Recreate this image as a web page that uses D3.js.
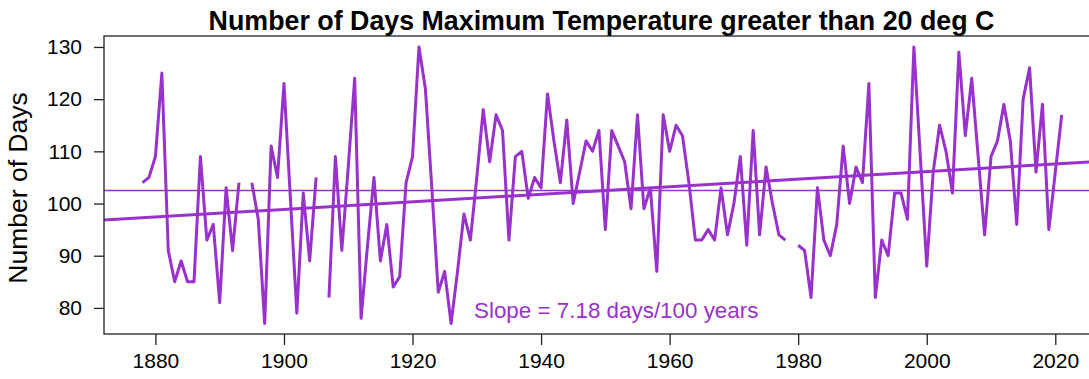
<!DOCTYPE html>
<html>
<head>
<meta charset="utf-8">
<script src="https://cdn.jsdelivr.net/npm/d3@7"></script>
<style>
  html, body { margin: 0; padding: 0; background: #fff; }
  svg { display: block; font-family: "Liberation Sans", Arial, Helvetica, sans-serif; }
  .axis path { display: none; }
  .axis line { stroke: #222; stroke-width: 1.3px; }
  .axis text { fill: #000; font-size: 21px; }
</style>
</head>
<body>
<div class="chart"></div>
<script>
// Data
const years = d3.range(1878, 2022);
const days = [
  104, 105, 109, 125, 91, 85, 89, 85, 85, 109, 93, 96, 81, 103, 91, 104, null,      // 1878-1894
  104, 97, 77, 111, 105, 123, 101, 79, 102, 89, 105, null,                          // 1895-1906
  82, 109, 91, 107, 124, 78, 92, 105, 89, 96, 84, 86, 104, 109,                     // 1907-1920
  130, 122, 103, 83, 87, 77, 87, 98, 93, 105, 118, 108, 117, 114, 93, 109, 110, 101, 105, 103, // 1921-1940
  121, 112, 104, 116, 100, 106, 112, 110, 114, 95, 114, 111, 108, 99, 117, 99, 103, 87, 117, 110, // 1941-1960
  115, 113, 104, 93, 93, 95, 93, 103, 94, 100, 109, 92, 114, 94, 107, 100, 94, 93, null, // 1961-1979
  92, 91, 82, 103, 93, 90, 96, 111, 100, 107, 104, 123, 82, 93, 90, 102, 102, 97, 130, 109, // 1980-1999
  88, 106, 115, 110, 102, 129, 113, 124, 109, 94, 109, 112, 119, 112, 96, 120, 126, 106, 119, 95, // 2000-2019
  106, 117                                                                         // 2020-2021
];
const yTicks = [80, 90, 100, 110, 120, 130];
const xTicks = [1880, 1900, 1920, 1940, 1960, 1980, 2000, 2020];
const title = 'Number of Days Maximum Temperature greater than 20 deg C';
const yLabel = 'Number of Days';
const slopeLabel = 'Slope = 7.18 days/100 years';

const purple = '#9932cc';
const width = 1089, height = 379;
const plot = { left: 104, right: 1099, top: 36, bottom: 334 };

const data = years.map((y, i) => ({ year: y, value: days[i] }));
const valid = data.filter(d => d.value != null);

// Least squares fit + mean
const mx = d3.mean(valid, d => d.year);
const my = d3.mean(valid, d => d.value);
const slope = d3.sum(valid, d => (d.year - mx) * (d.value - my)) / d3.sum(valid, d => (d.year - mx) ** 2);
const fit = yr => my + slope * (yr - mx);

const svg = d3.select('.chart')
  .append('svg')
  .attr('width', width)
  .attr('height', height);

// Scales
const xScale = d3.scaleLinear().domain([1872, 2026.8]).range([plot.left, plot.right]);
const yScale = d3.scaleLinear().domain([75, 132.1]).range([plot.bottom, plot.top]);

svg.append('clipPath')
  .attr('id', 'clip')
  .append('rect')
  .attr('x', plot.left)
  .attr('y', plot.top)
  .attr('width', plot.right - plot.left)
  .attr('height', plot.bottom - plot.top);

// Title
svg.append('text')
  .attr('x', (plot.left + plot.right) / 2)
  .attr('y', 30)
  .attr('text-anchor', 'middle')
  .style('font-size', '26.8px')
  .style('font-weight', 'bold')
  .text(title);

// Axis
svg.append('g')
  .attr('class', 'axis')
  .attr('transform', 'translate(0,' + plot.bottom + ')')
  .call(d3.axisBottom(xScale).tickValues(xTicks).tickFormat(d3.format('d')).tickSize(11).tickPadding(8))
  .selectAll('text')
  .attr('dy', '0.71em');

svg.append('g')
  .attr('class', 'axis')
  .attr('transform', 'translate(' + plot.left + ',0)')
  .call(d3.axisLeft(yScale).tickValues(yTicks).tickSize(10).tickPadding(12));

svg.append('text')
  .attr('transform', 'translate(27,' + ((plot.top + plot.bottom) / 2 + 3) + ') rotate(-90)')
  .attr('text-anchor', 'middle')
  .style('font-size', '26.5px')
  .text(yLabel);

// Lines
const g = svg.append('g').attr('clip-path', 'url(#clip)');

g.append('line')
  .attr('x1', plot.left).attr('x2', plot.right)
  .attr('y1', yScale(my)).attr('y2', yScale(my))
  .attr('stroke', purple)
  .attr('stroke-width', 1.5);

g.append('line')
  .attr('x1', plot.left).attr('x2', plot.right)
  .attr('y1', yScale(fit(xScale.invert(plot.left))))
  .attr('y2', yScale(fit(xScale.invert(plot.right))))
  .attr('stroke', purple)
  .attr('stroke-width', 3);

const line = d3.line()
  .defined(d => d.value != null)
  .x(d => xScale(d.year))
  .y(d => yScale(d.value));

g.append('path')
  .datum(data)
  .attr('d', line)
  .attr('fill', 'none')
  .attr('stroke', purple)
  .attr('stroke-width', 3)
  .attr('stroke-linejoin', 'round');

svg.append('text')
  .attr('x', 474)
  .attr('y', 318)
  .attr('fill', purple)
  .style('font-size', '22.4px')
  .text(slopeLabel);

// Box
svg.append('rect')
  .attr('x', plot.left)
  .attr('y', plot.top)
  .attr('width', plot.right - plot.left)
  .attr('height', plot.bottom - plot.top)
  .attr('fill', 'none')
  .attr('stroke', '#222')
  .attr('stroke-width', 1.3);
</script>
</body>
</html>
